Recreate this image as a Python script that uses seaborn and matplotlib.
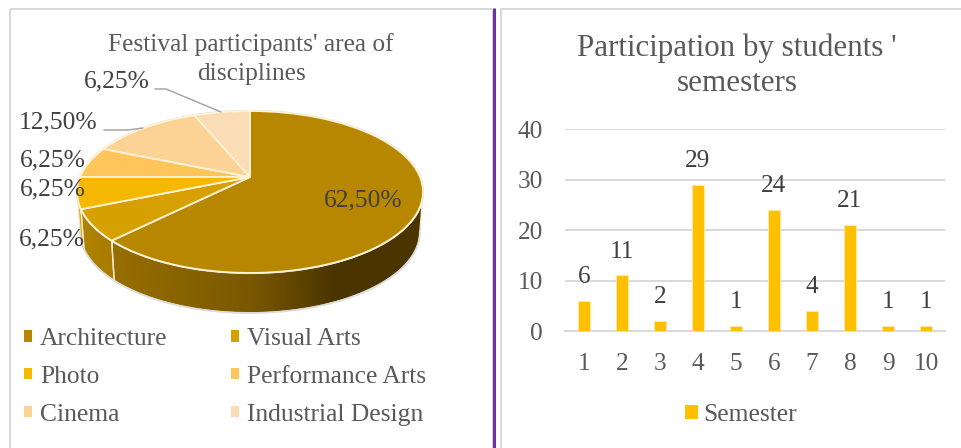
import numpy as np
import pandas as pd
import matplotlib
matplotlib.use("Agg")
import matplotlib.pyplot as plt
import seaborn as sns
from matplotlib.patches import Circle, Patch, Polygon
from matplotlib.transforms import Transform
from matplotlib.colors import LinearSegmentedColormap

disciplines = ["Architecture", "Visual Arts", "Photo", "Performance Arts", "Cinema", "Industrial Design"]
shares = [62.5, 6.25, 6.25, 6.25, 12.5, 6.25]
share_labels = ["62,50%", "6,25%", "6,25%", "6,25%", "12,50%", "6,25%"]
pie_colors = ["#b88700", "#d6a000", "#f4b800", "#fdc55a", "#fcd394", "#fadcb6"]
semesters = ["1", "2", "3", "4", "5", "6", "7", "8", "9", "10"]
counts = [6, 11, 2, 29, 1, 24, 4, 21, 1, 1]

sns.set_style("white")
plt.rcParams["font.family"] = ["Liberation Serif", "DejaVu Serif"]
W, H = 961, 448
GREY, DARK = "#595959", "#404040"

fig = plt.figure(figsize=(W / 100, H / 100), dpi=100)
bg = fig.add_axes([0, 0, 1, 1])

# Perspective mapping of the unit pie on to the tilted ellipse
CX, CY, A, B, K = 250, 177, 170, 78.2, 0.185


class Tilt(Transform):
    input_dims = output_dims = 2
    is_separable = False

    def transform_non_affine(self, xy):
        xy = np.asarray(xy, float)
        w = 1 + K * xy[:, 1]
        return np.column_stack([CX + A * xy[:, 0] / w, CY - B * xy[:, 1] / w])


tilt = Tilt()
wedges, _ = bg.pie(shares, colors=pie_colors, startangle=90, counterclock=False,
                   wedgeprops=dict(edgecolor="#fff3d6", linewidth=1.3))
bg.set_aspect("auto")
for w in wedges:
    w.set_transform(tilt + bg.transData)
    w.set_zorder(5)
rim = Circle((0, 0), 1, fc="none", ec="#dcdcdc", lw=1.6, zorder=4.5, clip_on=False)
bg.add_patch(rim)
rim.set_transform(tilt + bg.transData)

# Side wall: extruded from the visible part of each wedge's arc
DEPTH, SHRINK = 40, 0.982
VIS = (-169.3, -10.7)


def wall_poly(t1, t2):
    t = np.radians(np.linspace(t1, t2, 80))
    top = tilt.transform_non_affine(np.column_stack([np.cos(t), np.sin(t)]))
    low = top.copy()
    low[:, 0] = CX + (top[:, 0] - CX) * SHRINK
    low[:, 1] = top[:, 1] + DEPTH
    return np.vstack([top, low[::-1]])


wall_map = {
    0: [(0, "#976e00"), (0.45, "#7a5800"), (0.72, "#4b3500"), (1, "#4a3400")],
    1: [(0, "#b08200"), (1, "#a87c00")],
    2: [(0, "#d9a400"), (1, "#d9a400")],
}
for i, w in enumerate(wedges):
    t1, t2 = max(w.theta1, VIS[0]), min(w.theta2, VIS[1])
    if t2 <= t1:
        continue
    pts = wall_poly(t1, t2)
    x0, x1 = (113, 421) if i == 0 else (pts[:, 0].min(), pts[:, 0].max())
    cmap = LinearSegmentedColormap.from_list(f"w{i}", wall_map[i])
    grad = np.linspace(0, 1, 256).reshape(1, -1)
    im = bg.imshow(grad, cmap=cmap, extent=[x0, x1, pts[:, 1].max(), pts[:, 1].min()],
                   aspect="auto", zorder=3)
    poly = Polygon(pts, closed=True, fc="none", ec="#f3e7c8", lw=1.0, zorder=3.2)
    bg.add_patch(poly)
    im.set_clip_path(poly)
low_t = np.radians(np.linspace(VIS[0], VIS[1], 120))
low_xy = tilt.transform_non_affine(np.column_stack([np.cos(low_t), np.sin(low_t)]))
bg.plot(CX + (low_xy[:, 0] - CX) * SHRINK, low_xy[:, 1] + DEPTH, color="#dcdcdc", lw=1.3, zorder=3.3)

bg.set_xlim(0, W)
bg.set_ylim(H, 0)
bg.set_axis_off()

# Panel frames and purple divider
for xs, ys, c, lw in [
    ([10, 10], [9, H], "#d9d9d9", 1.5), ([10, 492], [9, 9], "#d9d9d9", 1.5),
    ([491.5, 491.5], [9, H], "#d9d9d9", 1.0),
    ([494, 494], [8, H], "#7030a0", 2.2),
    ([500.5, 500.5], [9, H], "#d9d9d9", 1.5), ([500, W], [9, 9], "#d9d9d9", 1.5),
]:
    bg.plot(xs, ys, color=c, lw=lw, zorder=1, solid_capstyle="butt")

# Leader lines
bg.plot([155, 166, 221], [89, 89, 112], color="#a6a6a6", lw=1.1, zorder=6)
bg.plot([104, 128, 143], [130, 130, 128], color="#a6a6a6", lw=1.1, zorder=6)

# Pie titles and labels
bg.text(251, 59, "Festival participants' area of\ndisciplines", ha="center", va="center",
        fontsize=18.3, color=GREY, linespacing=1.37, zorder=7)
label_pos = [(363, 200), (52, 239), (53, 189), (53, 160), (58, 122), (117, 81)]
for s, (x, y) in zip(share_labels, label_pos):
    bg.text(x, y, s, ha="center", va="center", fontsize=18.4, color=DARK, zorder=7)

# Pie legend
handles = [Patch(fc=w.get_facecolor(), ec="none") for w in wedges]
order = [0, 2, 4, 1, 3, 5]
fig.legend([handles[i] for i in order], [disciplines[i] for i in order], ncol=2,
           loc="upper left", bbox_to_anchor=(24 / W, 1 - 328 / H), frameon=False,
           fontsize=18.4, labelcolor=GREY, handlelength=0.31, handleheight=0.31,
           handletextpad=0.31, labelspacing=0.62, columnspacing=2.5, borderpad=0, borderaxespad=0)

# Bar chart
ax = fig.add_axes([565 / W, 1 - 331 / H, 380 / W, 202 / H])
df = pd.DataFrame({"Semester": semesters, "Count": counts})
sns.barplot(data=df, x="Semester", y="Count", color="#ffc000", saturation=1, width=0.32,
            edgecolor="#ffe9a8", linewidth=0.6, label="Semester", ax=ax, legend=False, zorder=3)
ax.set_xlim(-0.5, 9.5)
ax.set_ylim(0, 40)
ax.set_yticks([0, 10, 20, 30, 40])
ax.set_xlabel("")
ax.set_ylabel("")
ax.patch.set_alpha(0)
ax.set_axisbelow(True)
ax.grid(axis="y", color="#d9d9d9", lw=1.4)
sns.despine(ax=ax, left=True, top=True, right=True)
ax.spines["bottom"].set_color("#d9d9d9")
ax.spines["bottom"].set_linewidth(1.4)
ax.spines["bottom"].set_clip_on(False)
ax.tick_params(axis="x", length=0, pad=16, labelsize=18.2, labelcolor=GREY)
ax.tick_params(axis="y", length=0, pad=16, labelsize=18.2, labelcolor=GREY)
ax.bar_label(ax.containers[0], labels=[str(c) for c in counts], padding=9, fontsize=18.2, color=DARK, zorder=6)
ax.set_zorder(2)

fig.text(737 / W, 1 - 65.5 / H, "Participation by students '\nsemesters", ha="center", va="center",
         fontsize=22.3, color=GREY, linespacing=1.27)
fig.legend(handles=[Patch(fc="#ffc000", ec="none", label="Semester")], loc="center left",
           bbox_to_anchor=(685 / W, 1 - 415 / H), frameon=False, fontsize=18.4, labelcolor=GREY,
           handlelength=0.5, handleheight=0.5, handletextpad=0.2, borderpad=0, borderaxespad=0)

fig.savefig("out.png", dpi=100, facecolor="white")
